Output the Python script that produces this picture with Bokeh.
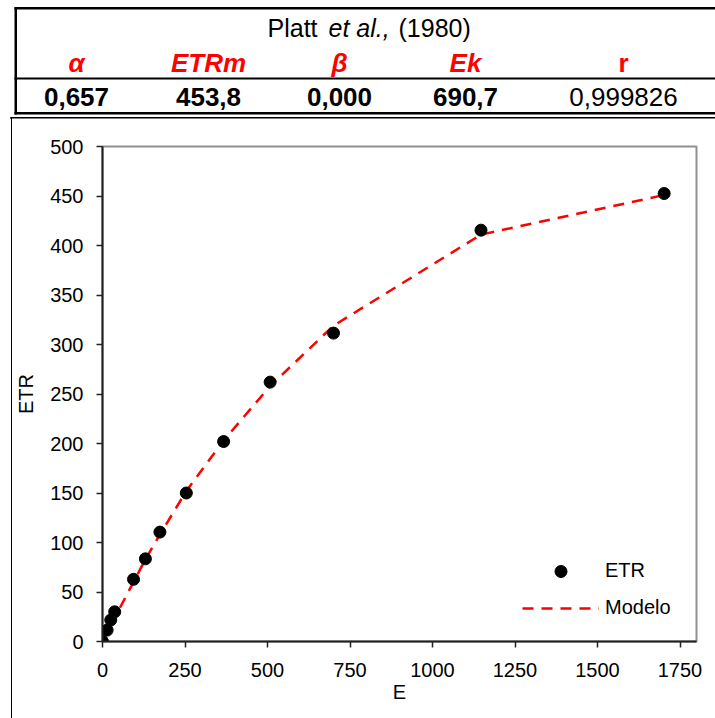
from bokeh.plotting import figure
from bokeh.layouts import column, row
from bokeh.models import Legend, LegendItem, FixedTicker, Range1d, Div
from bokeh.core.properties import value
from bokeh.embed import file_html
from bokeh.resources import INLINE

# Irradiance (E) and measured electron transport rate (ETR)
E = [0, 14, 25, 37, 94, 130, 174, 254, 367, 508, 700, 1147, 1702]
ETR = [0, 11.5, 21.7, 30, 62.8, 83.5, 110.5, 150, 202, 262, 311.5, 415.5, 452.5]
# Fitted model values at the same irradiances
MODELO = [0, 9, 16, 24, 60, 83, 108, 152, 203, 258, 319, 411, 451]

# Fit parameters shown in the table above the chart
param_names = ["α", "ETRm", "β", "Ek", "r"]
param_values = ["0,657", "453,8", "0,000", "690,7", "0,999826"]

x_ticks = [0, 250, 500, 750, 1000, 1250, 1500, 1750]
y_ticks = [0, 50, 100, 150, 200, 250, 300, 350, 400, 450, 500]

FONT = "Liberation Sans"
RED = "#ff0000"
W = 715
TOP_H = 119
STRIP_W = 12
CHART_H = 718 - TOP_H

# ---- parameter table, drawn in pixel units (y measured from the top) ----
t = figure(width=W, height=TOP_H, x_range=Range1d(0, W), y_range=Range1d(0, TOP_H),
           output_backend="svg", toolbar_location=None,
           x_axis_location=None, y_axis_location=None,
           min_border=0, min_border_left=0, min_border_right=0,
           min_border_top=0, min_border_bottom=0)
t.grid.visible = False
t.outline_line_color = None
t.background_fill_color = "white"
t.border_fill_color = "white"


def rule(x0, x1, y0, y1):
    t.quad(left=[x0], right=[x1], top=[TOP_H - y0], bottom=[TOP_H - y1],
           fill_color="black", line_color=None)


rule(14, 760, 6.5, 9)        # table top
rule(14, 16.5, 6.5, 114)     # table left
rule(14, 760, 77, 79)        # under the header row
rule(14, 760, 111.5, 114)    # table bottom
rule(10, 760, 116.5, 118)    # chart panel top
rule(10, 11.5, 116.5, 119)   # chart panel left (start)


def write(x, y, s, size=25, color="black", style="normal", align="center"):
    t.text(x=[x], y=[TOP_H - y], text=[s], text_font=value(FONT),
           text_font_size=value(f"{size}px"), text_color=color,
           text_font_style=value(style), text_align=value(align),
           text_baseline=value("middle"))


write(267, 27.5, "Platt", align="left")
write(328, 27.5, "et al.,", style="italic", align="left")
write(398, 27.5, "(1980)", align="left")

col_x = [76, 208, 339, 465, 623]
header_styles = ["bold italic", "bold italic", "bold italic", "bold italic", "bold"]
value_styles = ["bold", "bold", "bold", "bold", "normal"]
for cx, name, hs in zip(col_x, param_names, header_styles):
    write(cx, 62.5, name, size=26, color=RED, style=hs)
for cx, val, vs in zip(col_x, param_values, value_styles):
    write(cx, 96.5, val, size=26, style=vs)

# ---- left edge of the chart panel ----
edge = Div(text="", width=STRIP_W, height=CHART_H,
           styles={"box-sizing": "border-box", "border-right": "1.5px solid black",
                   "background-color": "white", "margin": "0", "padding": "0"})

# ---- light-response chart ----
p = figure(width=W - STRIP_W, height=CHART_H, x_range=Range1d(0, 1800), y_range=Range1d(0, 500),
           output_backend="svg", toolbar_location=None,
           min_border_left=101 - STRIP_W, min_border_right=19,
           min_border_top=146 - TOP_H, min_border_bottom=77,
           x_axis_label="E", y_axis_label="ETR")
p.background_fill_color = "white"
p.border_fill_color = "white"
p.outline_line_color = "#8f8f8f"
p.outline_line_width = 2
p.grid.visible = False

p.xaxis.ticker = FixedTicker(ticks=x_ticks)
p.yaxis.ticker = FixedTicker(ticks=y_ticks)
for ax in (p.xaxis[0], p.yaxis[0]):
    ax.axis_line_color = "#222222"
    ax.axis_line_width = 2
    ax.major_tick_line_color = "#222222"
    ax.major_tick_line_width = 1.5
    ax.major_tick_out = 6
    ax.major_tick_in = 0
    ax.minor_tick_out = 0
    ax.minor_tick_in = 0
    ax.major_label_text_font = FONT
    ax.major_label_text_font_size = "20px"
    ax.major_label_text_color = "black"
    ax.axis_label_text_font = FONT
    ax.axis_label_text_font_size = "20px"
    ax.axis_label_text_font_style = "normal"
    ax.axis_label_text_color = "black"
p.yaxis.major_label_standoff = 13
p.xaxis.major_label_standoff = 15
p.yaxis.axis_label_standoff = 10
p.xaxis.axis_label_standoff = 1

model_line = p.line(E, MODELO, line_color=RED, line_width=2.5, line_dash="11 8")
points = p.scatter(E, ETR, size=12, color="black")

legend = Legend(items=[LegendItem(label="ETR", renderers=[points]),
                       LegendItem(label="Modelo", renderers=[model_line])],
                location=(420, 15), orientation="vertical",
                glyph_width=77, glyph_height=30, label_height=37, spacing=0,
                padding=0, margin=0, label_standoff=6,
                border_line_color=None, background_fill_alpha=0,
                label_text_font=FONT, label_text_font_size="20px", label_text_color="black")
p.add_layout(legend)

page = column(t, row(edge, p, spacing=0), spacing=0)
open("out.html", "w").write(file_html(page, INLINE))
